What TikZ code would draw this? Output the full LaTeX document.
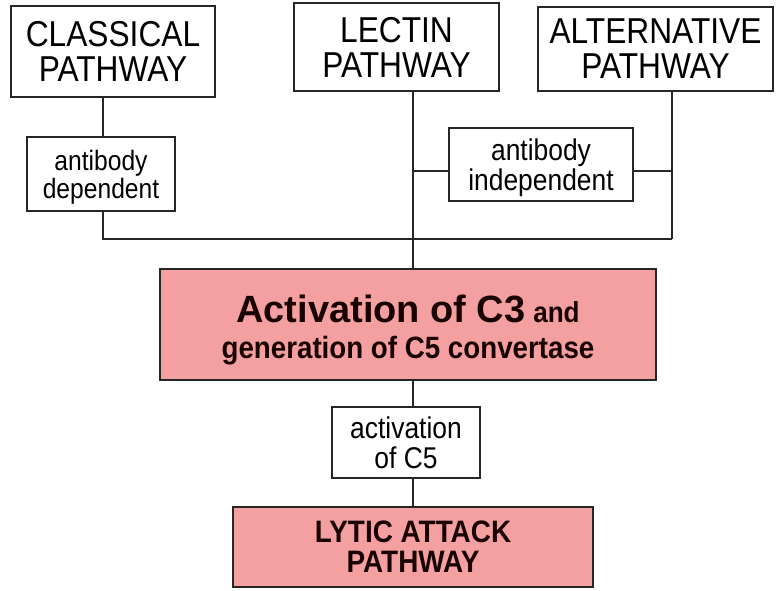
\documentclass[tikz,border=0pt]{standalone}
\usepackage{fontspec}
\setmainfont{Liberation Sans}
\newfontfamily\tallsans[FakeStretch=0.88]{Liberation Sans}
\newfontfamily\tallbold[FakeStretch=0.9]{Liberation Sans Bold}
\usepackage{xcolor}
\usepackage{tikz}
\usetikzlibrary{positioning, calc}

\definecolor{boxpink}{RGB}{245,160,160}
\newcommand\fsz[2]{\fontsize{#1}{#2}\selectfont}

\begin{document}
\begin{tikzpicture}[x=1pt, y=-1pt,
  pathbox/.style  = {rectangle, draw=black!85, line width=1.1pt, align=center,
                     inner sep=0pt, text depth=0pt, font=\tallsans\fsz{36}{35}},
  tagbox/.style   = {rectangle, draw=black!85, line width=1.1pt, align=center,
                     inner sep=0pt, text depth=0pt},
  stagebox/.style = {rectangle, draw=black!85, line width=1.1pt, fill=boxpink,
                     align=center, inner sep=0pt, text depth=0pt, text=black!90!red},
  link/.style     = {line width=1.1pt, black!85},
]
  \useasboundingbox (0,0) rectangle (776,590);

  % the three pathways
  \node[pathbox, minimum width=204pt, minimum height=91pt] (classical) at (113,51.5) {CLASSICAL\\PATHWAY};
  \node[pathbox, minimum width=205pt, minimum height=88pt] (lectin)    at (396.5,47)  {LECTIN\\PATHWAY};
  \node[pathbox, minimum width=235pt, minimum height=84pt] (alt)       at (655.5,49)  {ALTERNATIVE\\PATHWAY};

  % labels on the branches
  \node[tagbox, minimum width=148pt, minimum height=74pt,
        font=\tallsans\fsz{28}{28}] (dep)   at (101,174)   {antibody\\dependent};
  \node[tagbox, minimum width=184pt, minimum height=73pt,
        font=\tallsans\fsz{30}{30}] (indep) at (541,164.5) {antibody\\independent};

  % main steps
  \node[stagebox, minimum width=496pt, minimum height=111pt,
        font=\tallbold\fsz{30.8}{36}] (act) at (408,324.5)
        {{\rmfamily\bfseries\fsz{38}{36}\rule{0pt}{31pt}Activation of C3} {\fsz{29}{36}and}\\generation of C5 convertase};
  \node[tagbox, minimum width=148pt, minimum height=71pt,
        font=\tallsans\fsz{30}{30}] (c5) at (406,442.5) {activation\\of C5};
  \node[stagebox, minimum width=360pt, minimum height=80pt,
        font=\tallbold\fsz{31}{30}] (lytic) at (413,547) {LYTIC ATTACK\\PATHWAY};

  \coordinate (axis) at (413,0);
  \coordinate (altaxis) at (672,0);
  \coordinate (join) at (672,239);
  \coordinate (tap) at (0,171);

  \draw[link] (dep.north -| 103,0) -- (classical.south -| 103,0);
  \draw[link] (dep.south -| 103,0) |- (join);
  \draw[link] (alt.south -| altaxis) -- (join);
  \draw[link] (lectin.south -| axis) -- (act.north -| axis);
  \draw[link] (indep.west |- tap) -- (tap -| axis);
  \draw[link] (indep.east |- tap) -- (tap -| altaxis);
  \draw[link] (act.south -| axis) -- (c5.north -| axis);
  \draw[link] (c5.south -| axis) -- (lytic.north -| axis);
\end{tikzpicture}
\end{document}
